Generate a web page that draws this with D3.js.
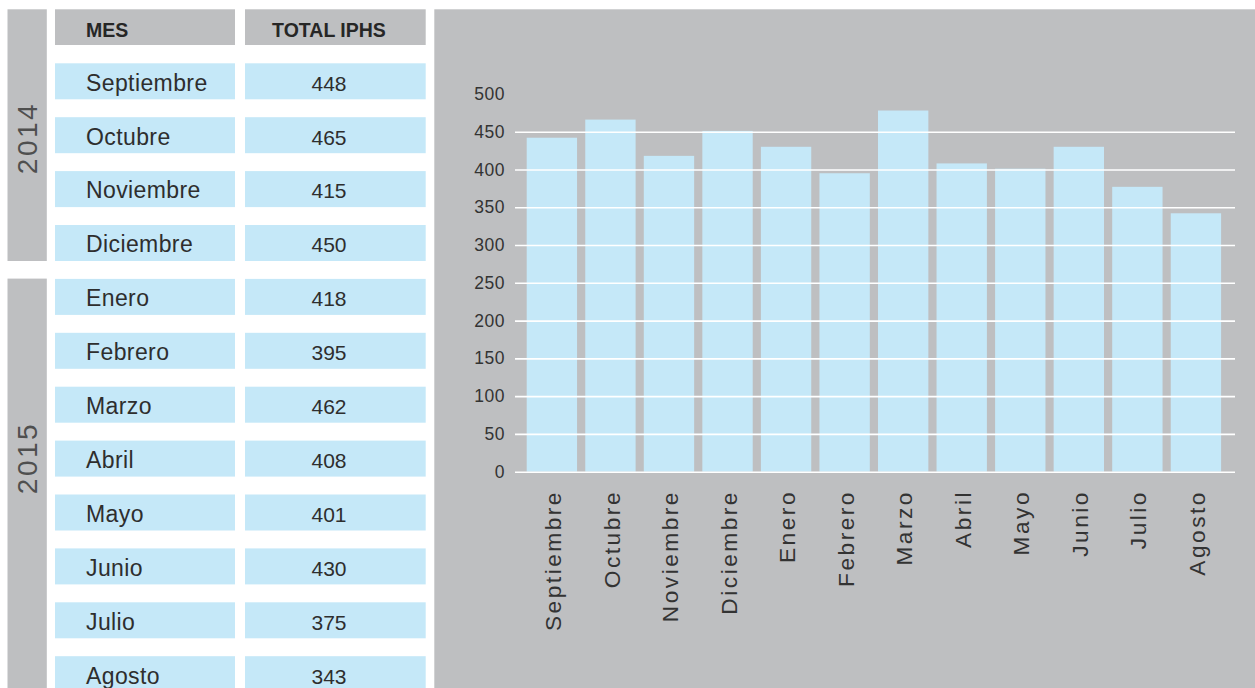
<!DOCTYPE html>
<html>
<head>
<meta charset="utf-8">
<script src="https://cdn.jsdelivr.net/npm/d3@7"></script>
<style>
  html, body { margin: 0; padding: 0; background: #ffffff; }
  svg { display: block; }
  text { font-family: "Liberation Sans", Arial, sans-serif; }
</style>
</head>
<body>
<svg id="chart" width="1255" height="688"></svg>
<script>
// ---- data ----
const months = ["Septiembre","Octubre","Noviembre","Diciembre","Enero","Febrero","Marzo","Abril","Mayo","Junio","Julio","Agosto"];
const years = ["2014","2015"];
const yearMonthCounts = [4, 8];
const tableValues = [448, 465, 415, 450, 418, 395, 462, 408, 401, 430, 375, 343];
const barValues = [442, 466, 418, 451, 430, 395, 478, 408, 401, 430, 377, 342];
const headerLabels = ["MES", "TOTAL IPHS"];
const yTickValues = [0, 50, 100, 150, 200, 250, 300, 350, 400, 450, 500];
const gridValues = [0, 50, 100, 150, 200, 250, 300, 350, 400, 450];

const svg = d3.select("#chart");
const GRAY = "#bebfc1";
const BLUE = "#c5e8f8";
const TEXT = "#2e2e2e";

// ---- left table ----
const rowTop0 = 63.3, rowStep = 53.9, rowH = 36;
const rowY = d3.scaleLinear().domain([0, 1]).range([rowTop0, rowTop0 + rowStep]);

// year bars
const yearG = svg.append("g");
let startIdx = 0;
const yearBlocks = years.map((yr, i) => {
  const n = yearMonthCounts[i];
  const b = { year: yr, start: startIdx, n: n };
  startIdx += n;
  return b;
});
yearG.selectAll("rect").data(yearBlocks).enter().append("rect")
  .attr("x", 7.5).attr("width", 39.3)
  .attr("y", d => d.start === 0 ? 9.3 : rowY(d.start) - 0.3)
  .attr("height", d => d.start === 0 ? rowY(d.start + d.n - 1) + rowH - 9.3 : 700 - rowY(d.start))
  .attr("fill", GRAY);
yearG.selectAll("text").data(yearBlocks).enter().append("text")
  .attr("transform", d => {
    const cy = d.start === 0 ? 138 : 458;
    return `translate(26.7,${cy}) rotate(-90)`;
  })
  .attr("text-anchor", "middle")
  .attr("dy", "0.36em")
  .attr("font-size", 28)
  .attr("letter-spacing", 2.5)
  .attr("fill", "#4f4f4f")
  .text(d => d.year);

// header
const colX = [55, 245], colW = [180, 180.7];
const headG = svg.append("g");
headG.selectAll("rect").data(headerLabels).enter().append("rect")
  .attr("x", (d, i) => colX[i]).attr("width", (d, i) => colW[i])
  .attr("y", 9.3).attr("height", 35.7).attr("fill", GRAY);
headG.selectAll("text").data(headerLabels).enter().append("text")
  .attr("x", (d, i) => i === 0 ? 86 : 329)
  .attr("y", 36.5)
  .attr("text-anchor", (d, i) => i === 0 ? "start" : "middle")
  .attr("font-size", 19.5).attr("font-weight", "bold")
  .attr("fill", "#262626")
  .text(d => d);

// rows
const rowsG = svg.append("g");
const rows = rowsG.selectAll("g").data(months).enter().append("g")
  .attr("transform", (d, i) => `translate(0,${rowY(i)})`);
rows.append("rect").attr("x", colX[0]).attr("width", colW[0]).attr("height", rowH).attr("fill", BLUE);
rows.append("rect").attr("x", colX[1]).attr("width", colW[1]).attr("height", rowH).attr("fill", BLUE);
rows.append("text").attr("x", 86).attr("y", 27.4)
  .attr("font-size", 23).attr("letter-spacing", 0.4).attr("fill", TEXT).text(d => d);
rows.append("text").attr("x", 329).attr("y", 27.4).attr("text-anchor", "middle")
  .attr("font-size", 21).attr("fill", TEXT).text((d, i) => tableValues[i]);

// ---- chart panel ----
svg.append("rect").attr("x", 434.3).attr("y", 9.3).attr("width", 1255 - 434.3).attr("height", 688 - 9.3).attr("fill", GRAY);

const x = d3.scaleBand().domain(months).range([522.6, 1225.2]).paddingInner(0.14).paddingOuter(0.07);
const y = d3.scaleLinear().domain([0, 500]).range([471.7, 93.9]);

svg.append("g").selectAll("rect").data(months).enter().append("rect")
  .attr("x", d => x(d)).attr("width", x.bandwidth())
  .attr("y", (d, i) => y(barValues[i]))
  .attr("height", (d, i) => y(0) - y(barValues[i]))
  .attr("fill", BLUE);

// gridlines (drawn over bars)
const gridL = 515, gridR = 1235;
const grid = svg.append("g").attr("transform", `translate(${gridL},0)`)
  .call(d3.axisLeft(y).tickValues(gridValues).tickSize(-(gridR - gridL)).tickFormat(""));
grid.select(".domain").remove();
grid.selectAll(".tick line").attr("stroke", "#ffffff").attr("stroke-width", 1.6);

// y tick labels
const yAx = svg.append("g").attr("transform", "translate(505,0)")
  .call(d3.axisLeft(y).tickValues(yTickValues).tickSize(0).tickPadding(0));
yAx.select(".domain").remove();
yAx.selectAll("text").attr("font-size", 17.5).attr("letter-spacing", 0.5)
  .attr("fill", "#333").attr("font-family", "Liberation Sans, Arial, sans-serif");

// x labels
const xAx = svg.append("g").attr("transform", "translate(0,490)")
  .call(d3.axisBottom(x).tickSize(0).tickPadding(0));
xAx.select(".domain").remove();
xAx.selectAll("text")
  .attr("x", 0).attr("y", 0).attr("dy", "0.4em")
  .attr("transform", "rotate(-90)")
  .attr("text-anchor", "end")
  .attr("font-size", 22.7).attr("letter-spacing", 2.5)
  .attr("fill", "#333").attr("font-family", "Liberation Sans, Arial, sans-serif");
</script>
</body>
</html>
